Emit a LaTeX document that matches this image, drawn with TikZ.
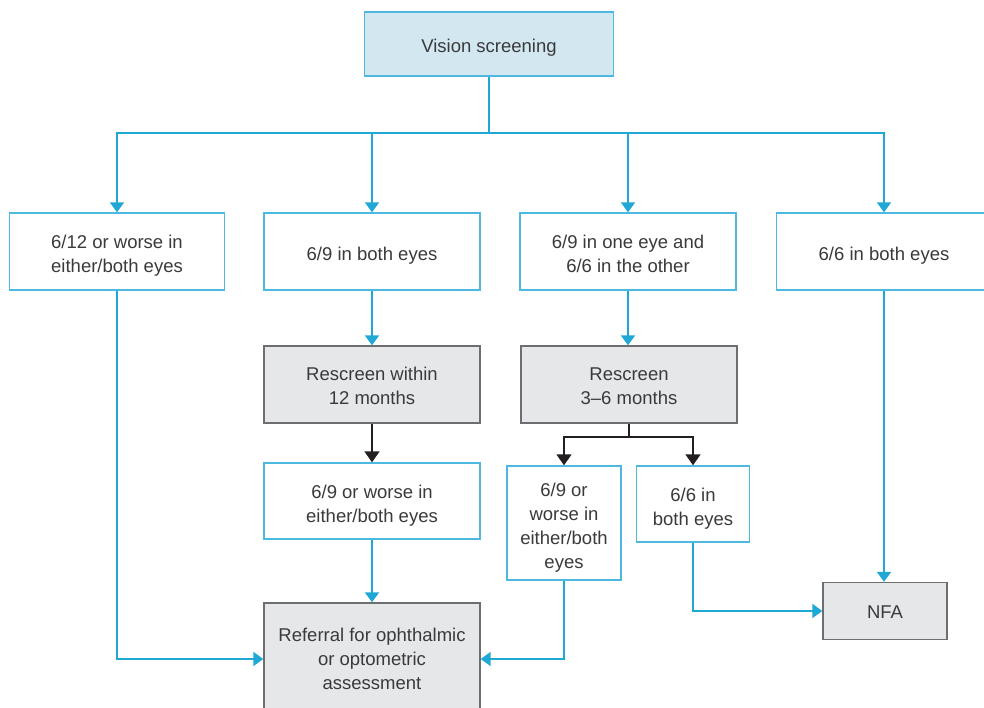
\documentclass[tikz,border=0pt]{standalone}
\usepackage{fontspec}
\setmainfont{Liberation Sans}
\usetikzlibrary{arrows.meta}
\definecolor{lblue}{HTML}{D3E7F1}
\definecolor{bblue}{HTML}{4DB8E0}
\definecolor{lineblue}{HTML}{1FA7D6}
\definecolor{gfill}{HTML}{E6E7E8}
\definecolor{gborder}{HTML}{6D6E71}
\definecolor{txt}{HTML}{3A3A3C}
\definecolor{dark}{HTML}{231F20}
\newcommand{\mytxt}[2][-4pt]{\raisebox{#1}[\height][\depth]{\begin{tabular}{@{}c@{}}#2\end{tabular}}}
\begin{document}
\begin{tikzpicture}[x=1pt,y=-1pt,
  every node/.style={font=\fontsize{18.5}{24}\selectfont, text=txt, inner sep=0pt},
  bluebox/.style={draw=bblue, line width=1.4pt, fill=white, minimum width=#1, minimum height=77},
  topbox/.style={draw=bblue, line width=1.4pt, fill=lblue, minimum width=249, minimum height=64},
  graybox/.style={draw=gborder, line width=1.4pt, fill=gfill},
  bl/.style={draw=lineblue, line width=2pt, -{Triangle[width=14pt,length=10pt]}},
  blplain/.style={draw=lineblue, line width=2pt},
  bk/.style={draw=dark, line width=1.8pt, -{Triangle[width=15pt,length=11pt]}},
  bkplain/.style={draw=dark, line width=1.8pt}]
\useasboundingbox (0,0) rectangle (984,708);
\clip (0,0) rectangle (984,708);
\node[topbox] (vs) at (489,44) {\mytxt{Vision screening}};
\node[bluebox=215] (a) at (117,251.5) {\mytxt{6/12 or worse in\\either/both eyes}};
\node[bluebox=216] (b) at (372,251.5) {\mytxt{6/9 in both eyes}};
\node[bluebox=216] (c) at (628,251.5) {\mytxt{6/9 in one eye and\\6/6 in the other}};
\node[bluebox=215] (d) at (884,251.5) {\mytxt{6/6 in both eyes}};
\node[graybox, minimum width=216, minimum height=77] (r12) at (372,384.5) {\mytxt[-3pt]{Rescreen within\\12 months}};
\node[graybox, minimum width=216, minimum height=77] (r36) at (629,384.5) {\mytxt[-3pt]{Rescreen\\3--6 months}};
\node[bluebox=216, minimum height=76] (e) at (372,501) {\mytxt[-4.5pt]{6/9 or worse in\\either/both eyes}};
\node[bluebox=114, minimum height=114] (f) at (564,523) {\mytxt[-5pt]{6/9 or\\worse in\\either/both\\eyes}};
\node[bluebox=113, minimum height=76] (g) at (693,504) {\mytxt[-4.5pt]{6/6 in\\both eyes}};
\node[graybox, minimum width=216, minimum height=112] (ref) at (372,659) {\mytxt[-2pt]{Referral for ophthalmic\\or optometric\\assessment}};
\node[graybox, minimum width=124, minimum height=57] (nfa) at (885,611) {\mytxt[-3pt]{NFA}};
\coordinate (bus) at (489,133);
\coordinate (split) at (629,437);
\draw[blplain] (vs.south) -- (bus);
\draw[bl] (bus) -| (a.north);
\draw[bl] (bus) -| (b.north);
\draw[bl] (bus) -| (c.north);
\draw[bl] (bus) -| (d.north);
\draw[bl] (b.south) -- (r12.north);
\draw[bl] (c.south) -- (c.south |- r36.north);
\draw[bk] (r12.south) -- (e.north);
\draw[bkplain] (r36.south) -- (split);
\draw[bk] (split) -| (f.north);
\draw[bk] (split) -| (g.north);
\draw[bl] (e.south) -- (ref.north);
\draw[bl] (a.south) |- (ref.west);
\draw[bl] (f.south) |- (ref.east);
\draw[bl] (g.south) |- (nfa.west);
\draw[bl] (d.south) -- (d.south |- nfa.north);
\end{tikzpicture}
\end{document}
